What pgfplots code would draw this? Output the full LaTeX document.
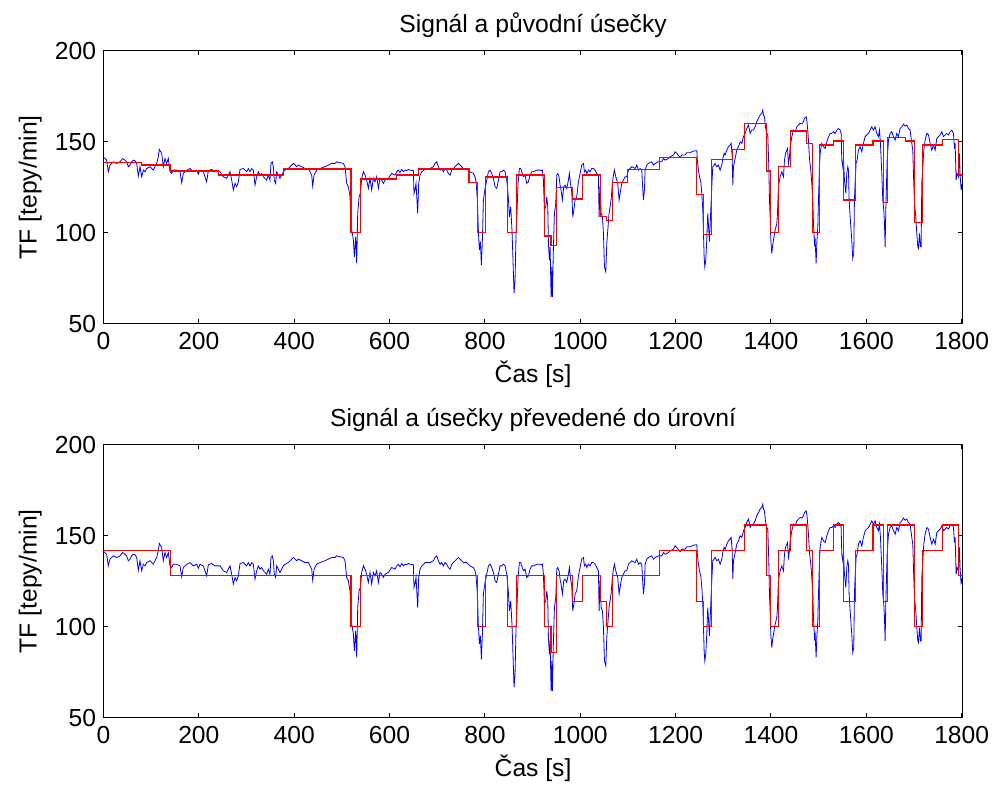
\documentclass[border=0pt]{standalone}
\usepackage{fontspec}
\setmainfont{Liberation Sans}
\usepackage{pgfplots}
\usepackage{pgfplotstable}
\pgfplotsset{compat=1.18}

% heart rate signal
\pgfplotstableread{
t v
0 141.4
3.1 140.8
6.6 139.9
10.1 133.5
13.6 137.2
20.6 139.0
27.6 138.1
34.6 139.0
40.2 140.8
45.1 139.9
48.6 139.0
52.1 136.3
55.6 137.2
59.1 139.0
62.6 139.9
66.1 139.6
69.6 138.1
73.1 131.1
76.6 136.3
80.1 130.8
83.6 134.4
87.1 133.5
90.6 135.3
97.6 136.3
104.5 134.4
111.5 138.1
115.0 141.8
117.1 145.8
122.0 143.6
125.5 136.3
129.0 140.8
132.5 138.1
136.0 140.8
139.5 133.5
143.0 132.6
146.5 134.4
153.5 134.4
160.5 133.5
164.0 127.5
167.5 132.6
174.5 134.4
181.5 135.3
188.5 133.5
195.5 134.4
199.0 132.2
202.4 134.4
209.4 133.5
216.4 128.0
219.9 134.1
226.9 134.8
233.9 133.5
244.4 133.5
251.4 130.8
258.4 129.9
265.4 133.5
268.9 128.9
272.4 123.5
275.9 127.1
279.4 125.3
282.9 128.0
286.4 134.8
293.4 135.3
300.3 133.5
303.8 135.3
307.3 133.5
310.8 135.3
314.3 134.4
317.8 126.2
321.3 130.8
324.8 133.5
328.3 131.7
331.8 132.6
335.3 130.8
338.8 129.9
342.3 128.9
345.8 131.7
349.2 128.9
351.3 138.1
354.1 139.0
356.2 136.3
358.3 128.9
361.1 127.1
363.2 133.5
366.7 131.7
370.2 129.9
373.7 131.7
377.2 133.5
380.7 134.4
387.7 135.3
394.7 137.2
398.2 138.1
401.7 137.2
405.2 136.3
408.7 137.2
415.7 136.3
422.7 135.3
429.7 135.3
433.2 133.5
436.7 131.7
438.8 125.6
441.6 131.7
447.1 134.4
454.1 135.3
464.6 136.3
471.6 137.2
478.6 138.1
485.6 138.1
489.1 139.0
496.1 138.5
503.1 138.1
506.6 136.3
510.1 127.1
513.6 125.3
517.1 119.8
519.2 103.3
522.0 99.6
524.1 96.0
526.2 86.8
529.0 97.8
531.1 83.2
533.2 110.6
536.0 119.8
538.8 121.6
541.6 129.9
545.1 133.5
548.6 131.7
552.0 128.9
555.5 124.4
559.0 129.9
562.5 123.5
566.0 129.9
569.5 128.0
573.0 130.8
576.5 124.4
580.0 129.9
583.5 128.9
587.0 127.1
590.5 128.9
597.5 129.9
604.5 132.6
611.5 131.7
615.0 133.5
618.5 134.4
622.0 133.0
625.5 134.8
629.0 133.5
632.5 134.4
636.0 134.1
639.5 134.8
643.0 134.4
650.0 134.1
651.3 121.6
653.4 123.5
655.5 127.1
656.9 120.7
659.0 110.6
661.1 127.1
663.9 131.7
667.4 133.5
670.9 134.1
674.4 135.3
684.9 135.3
691.9 136.3
695.4 138.1
698.9 139.0
702.4 136.3
705.9 134.4
709.4 135.3
712.9 133.5
716.4 135.3
719.9 134.4
723.4 132.6
726.9 131.7
730.4 134.4
733.9 135.3
737.4 136.3
740.9 137.2
744.4 138.1
747.9 137.2
751.3 136.3
754.8 135.3
761.8 135.3
768.8 133.5
775.8 132.6
779.3 130.8
781.4 128.0
784.2 118.0
786.3 100.6
788.4 90.5
790.5 95.1
792.6 82.2
794.7 96.0
796.8 118.0
800.3 124.4
803.8 128.9
807.3 133.5
810.8 134.4
814.3 132.6
817.8 129.9
821.3 125.3
824.8 124.4
828.3 128.9
831.8 133.5
835.3 133.5
838.8 134.4
842.3 133.5
845.8 128.9
849.3 118.9
851.3 108.8
854.1 114.3
856.9 100.6
858.3 89.6
861.1 66.7
863.2 74.0
865.3 99.6
867.4 112.5
869.5 127.1
872.3 135.3
875.1 135.3
877.2 133.5
880.7 130.8
884.2 131.7
887.7 127.1
891.2 128.0
894.7 131.7
898.2 133.5
901.7 133.5
908.7 134.4
915.7 134.4
919.2 134.1
920.6 134.4
922.7 128.9
924.8 112.5
927.6 114.3
929.7 119.8
931.8 114.3
933.2 94.1
935.3 85.0
936.7 92.3
938.8 64.8
940.2 81.3
941.6 64.8
943.7 92.3
945.8 110.6
948.6 116.1
950.7 131.7
952.8 132.6
955.5 130.8
957.6 126.2
959.7 123.5
962.5 118.0
965.3 125.3
968.1 126.2
971.6 124.4
975.1 128.9
977.2 132.6
979.3 127.1
982.1 122.5
984.2 108.8
987.0 113.4
989.1 118.0
992.6 119.8
996.1 128.0
999.6 132.6
1003.1 137.2
1006.6 138.1
1008.7 133.5
1011.5 134.4
1013.6 132.6
1017.1 134.4
1020.6 133.5
1024.1 135.3
1027.6 135.3
1031.1 134.4
1034.6 132.6
1038.1 130.8
1039.5 108.8
1041.6 125.3
1043.7 110.6
1046.5 108.8
1048.6 99.6
1050.7 81.3
1053.5 78.6
1055.6 94.1
1057.7 101.5
1060.4 110.6
1062.5 114.3
1064.6 118.0
1067.4 127.1
1069.5 131.7
1071.6 134.4
1074.4 130.8
1078.6 127.1
1081.4 118.0
1083.5 121.6
1087.0 127.1
1090.5 128.9
1094.0 130.8
1097.5 130.8
1101.0 134.4
1108.0 136.3
1115.0 135.3
1118.5 137.2
1122.0 134.4
1125.5 135.3
1129.0 134.4
1130.4 127.1
1132.5 118.0
1134.6 123.5
1136.0 134.4
1139.5 137.2
1143.0 138.1
1150.0 139.0
1153.5 137.2
1157.0 138.1
1164.0 139.0
1170.9 139.0
1174.4 140.8
1177.9 139.9
1184.9 140.8
1188.4 141.8
1195.4 142.7
1198.9 144.5
1202.4 143.6
1209.4 141.3
1212.9 142.7
1219.9 142.7
1223.4 144.0
1230.4 144.0
1237.4 144.9
1244.4 145.1
1245.8 139.0
1247.9 134.4
1250.0 130.8
1252.8 128.0
1254.9 121.6
1257.0 112.5
1258.4 99.6
1259.8 86.8
1261.2 81.3
1263.2 85.0
1265.3 96.0
1267.4 110.6
1269.5 101.5
1270.9 95.1
1273.7 112.5
1275.8 125.3
1277.9 136.3
1280.7 137.2
1282.8 138.1
1286.3 136.3
1289.8 137.2
1293.3 134.4
1296.8 137.2
1298.9 140.8
1301.7 143.6
1303.8 142.7
1307.3 145.4
1310.8 147.3
1314.3 148.2
1316.4 149.1
1318.5 142.7
1319.9 126.2
1321.3 136.3
1324.8 140.8
1328.3 145.4
1331.8 147.3
1335.3 150.0
1338.8 149.1
1342.3 152.8
1345.8 154.6
1349.3 157.3
1352.8 159.2
1356.3 154.6
1359.8 156.4
1363.2 156.4
1366.7 158.2
1370.2 161.0
1373.7 162.8
1377.2 164.7
1380.7 165.6
1382.8 167.4
1384.2 164.7
1386.3 163.7
1388.4 158.2
1391.2 154.6
1393.3 153.7
1395.4 136.3
1396.8 118.0
1398.2 108.8
1399.6 96.0
1401.7 88.6
1403.1 92.3
1405.2 96.0
1408.7 101.5
1412.2 105.1
1413.6 110.6
1415.7 126.2
1419.2 130.8
1422.7 133.5
1426.2 130.8
1428.3 139.9
1430.4 143.6
1433.2 145.4
1434.6 146.3
1436.7 138.1
1438.8 141.8
1440.2 147.3
1443.7 152.8
1447.2 156.4
1450.7 155.5
1454.2 158.2
1457.7 159.2
1461.2 160.1
1464.7 159.7
1468.1 161.0
1470.2 162.8
1473.7 163.7
1475.1 161.9
1476.5 158.2
1478.6 150.9
1480.7 140.8
1483.5 134.4
1485.6 127.1
1487.7 118.0
1489.1 105.1
1491.2 94.1
1492.6 96.0
1494.7 83.2
1496.1 94.1
1498.2 103.3
1499.6 118.0
1501.7 136.3
1503.1 143.6
1505.2 147.3
1506.6 149.1
1510.1 147.3
1513.6 146.3
1517.1 150.0
1520.6 152.8
1524.1 154.6
1527.5 154.6
1531.0 155.5
1534.5 154.6
1538.0 156.4
1541.5 157.3
1545.0 156.4
1547.1 154.6
1548.5 139.9
1550.6 136.3
1552.0 140.8
1554.1 128.9
1556.9 121.6
1559.0 132.6
1561.1 136.3
1562.5 134.4
1563.9 118.0
1566.0 108.8
1569.4 96.0
1571.5 85.9
1573.6 88.7
1575.0 118.0
1576.4 127.1
1578.5 138.1
1580.6 139.9
1583.4 145.4
1586.9 147.3
1590.4 144.5
1593.9 149.1
1597.4 152.8
1600.9 153.7
1604.4 154.6
1607.9 156.4
1611.4 158.2
1614.9 156.4
1618.4 158.2
1621.9 154.6
1625.4 152.8
1627.5 156.4
1629.6 149.1
1632.4 132.6
1634.5 118.0
1636.6 112.5
1638.0 105.1
1639.4 92.3
1640.8 112.5
1643.6 139.9
1646.4 150.9
1649.9 154.6
1653.4 155.5
1656.9 152.8
1660.4 150.9
1663.9 154.6
1667.3 152.8
1670.8 157.3
1674.3 158.2
1677.8 159.7
1681.3 158.6
1684.8 159.2
1688.3 157.3
1691.8 156.4
1695.3 149.1
1697.4 145.4
1698.8 132.6
1700.9 116.1
1703.7 108.8
1705.8 99.6
1707.9 92.3
1709.3 91.4
1711.4 99.6
1713.5 92.3
1714.9 92.3
1716.3 127.1
1718.4 136.3
1720.5 145.4
1723.3 150.9
1726.8 154.6
1730.3 153.7
1733.8 149.1
1737.3 145.4
1740.8 148.2
1744.3 145.4
1747.8 151.8
1751.3 152.8
1754.8 153.7
1758.3 155.5
1761.8 152.8
1765.3 153.7
1768.7 154.6
1772.2 153.7
1775.7 155.5
1779.2 156.4
1782.7 154.6
1784.8 146.3
1786.2 149.1
1788.3 128.9
1790.4 132.6
1793.2 130.8
1795.3 143.6
1796.7 131.7
1798.8 123.4
1800.2 126.2
1801.6 125.3
}\signal

% original line segments (start time, level)
\pgfplotstableread{
t v
0 138.5
80 137.2
141 133.9
241 131.7
377 135.0
519 100.2
539 129.5
615 131.7
660 135.0
766.7 127.5
784 100.2
801.7 130.6
848 100.2
866.7 131.7
924.8 98.2
938.8 92.9
950.7 124.9
984.2 118.5
1005.2 131.7
1043 108.8
1055.6 106.6
1067.4 127.5
1099.6 134.8
1166 141.4
1244 120.9
1258.4 99.1
1274.4 140.3
1319.9 145.8
1344.4 160.1
1391.2 133.9
1398.2 100.2
1415.7 136.3
1440.2 155.9
1473.7 149.1
1487 100.2
1501.7 148.2
1531 150.4
1552 118.0
1577.8 148.2
1614 150.4
1635.9 116.7
1644.3 152.2
1681.3 150.4
1701 105.7
1718.4 148.2
1760.3 151.3
1793.2 131.7
1802 131.7
}\orig

% segments converted to levels (start time, level)
\pgfplotstableread{
t v
0 142
141 128
519 100
539 128
784 100
801.7 128
848 100
866.7 128
924.8 100
938.8 86
950.7 128
984.2 114
1005.2 128
1043 114
1055.6 100
1067.4 128
1166 142
1244 114
1258.4 100
1274.4 142
1344.4 156
1391.2 128
1398.2 100
1415.7 142
1440.2 156
1473.7 142
1487 100
1501.7 142
1531 156
1552 114
1577.8 142
1614 156
1635.9 114
1644.3 156
1701 100
1718.4 142
1760.3 156
1793.2 128
1802 128
}\levels

\pgfplotsset{
  tfaxis/.style={
    scale only axis,
    width=644.25pt, height=204.75pt,
    xmin=0, xmax=1802, ymin=50, ymax=200,
    xtick={0,200,...,1800}, ytick={50,100,150,200},
    tick align=inside,
    major tick length=3.5pt,
    xlabel={Čas [s]},
    ylabel={TF [tepy/min]},
    /pgf/number format/assume math mode=true,
    /pgf/number format/set thousands separator={},
    ticklabel style={font=\fontsize{18.5}{22}\selectfont},
    xticklabel style={yshift=-3pt},
    yticklabel style={xshift=-2pt},
    label style={font=\fontsize{18.5}{22}\selectfont},
    xlabel style={yshift=-1pt},
    ylabel style={yshift=3pt},
    title style={font=\fontsize{18.5}{22}\selectfont},
    axis line style={line width=0.75pt},
    every tick/.style={black, line width=0.75pt},
  }
}

\begin{document}
\begin{tikzpicture}
\path[use as bounding box] (-77.6pt,-52pt) rectangle (667pt,538.3pt);

\begin{axis}[tfaxis, at={(0,295.5pt)}, anchor=south west,
    title={Signál a původní úsečky}]
  \addplot[blue, line width=0.6pt] table[x=t, y=v] {\signal};
  \addplot[red, line width=0.9pt, const plot] table[x=t, y=v] {\orig};
\end{axis}

\begin{axis}[tfaxis, at={(0,0)}, anchor=south west,
    title={Signál a úsečky převedené do úrovní}]
  \addplot[blue, line width=0.6pt] table[x=t, y=v] {\signal};
  \addplot[red, line width=0.9pt, const plot] table[x=t, y=v] {\levels};
\end{axis}
\end{tikzpicture}
\end{document}
